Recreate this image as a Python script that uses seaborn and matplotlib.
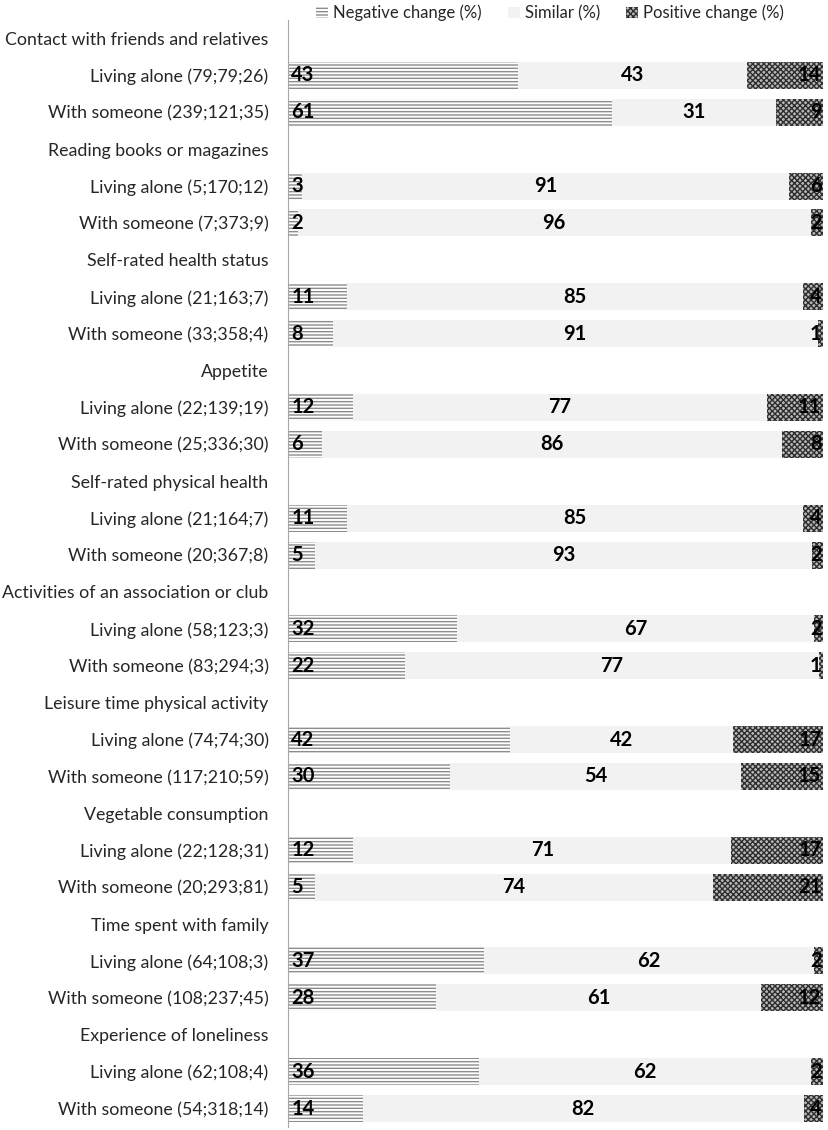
import matplotlib
matplotlib.use("Agg")
import matplotlib.pyplot as plt
import matplotlib.patches as mpatches
import numpy as np
import pandas as pd
import seaborn as sns

# ---- data ----
headers = [
    "Contact with friends and relatives",
    "Reading books or magazines",
    "Self-rated health status",
    "Appetite",
    "Self-rated physical health",
    "Activities of an association or club",
    "Leisure time physical activity",
    "Vegetable consumption",
    "Time spent with family",
    "Experience of loneliness",
]

# counts (negative; similar; positive) shown in the row labels
alone_n_neg = [79, 5, 21, 22, 21, 58, 74, 22, 64, 62]
alone_n_sim = [79, 170, 163, 139, 164, 123, 74, 128, 108, 108]
alone_n_pos = [26, 12, 7, 19, 7, 3, 30, 31, 3, 4]
someone_n_neg = [239, 7, 33, 25, 20, 83, 117, 20, 108, 54]
someone_n_sim = [121, 373, 358, 336, 367, 294, 210, 293, 237, 318]
someone_n_pos = [35, 9, 4, 30, 8, 3, 59, 81, 45, 14]

# percentages printed on the bars
alone_neg = [43, 3, 11, 12, 11, 32, 42, 12, 37, 36]
alone_sim = [43, 91, 85, 77, 85, 67, 42, 71, 62, 62]
alone_pos = [14, 6, 4, 11, 4, 2, 17, 17, 2, 2]
someone_neg = [61, 2, 8, 6, 5, 22, 30, 5, 28, 14]
someone_sim = [31, 96, 91, 86, 93, 77, 54, 74, 61, 82]
someone_pos = [9, 2, 1, 8, 2, 1, 15, 21, 12, 4]

# build the long table (header rows carry no values)
rows = []
for i, h in enumerate(headers):
    rows.append((h, np.nan, np.nan, np.nan, np.nan, np.nan, np.nan))
    rows.append((f"Living alone ({alone_n_neg[i]};{alone_n_sim[i]};{alone_n_pos[i]})",
                 alone_n_neg[i], alone_n_sim[i], alone_n_pos[i],
                 alone_neg[i], alone_sim[i], alone_pos[i]))
    rows.append((f"With someone ({someone_n_neg[i]};{someone_n_sim[i]};{someone_n_pos[i]})",
                 someone_n_neg[i], someone_n_sim[i], someone_n_pos[i],
                 someone_neg[i], someone_sim[i], someone_pos[i]))
df = pd.DataFrame(rows, columns=["label", "n_neg", "n_sim", "n_pos", "neg", "sim", "pos"])
tot = df["n_neg"] + df["n_sim"] + df["n_pos"]
df["w_neg"] = df["n_neg"] / tot * 100
df["w_sim"] = df["w_neg"] + df["n_sim"] / tot * 100
df["w_pos"] = df["w_sim"] + df["n_pos"] / tot * 100
order = list(df["label"])

sns.set_style("white")
plt.rcParams["font.family"] = ["Lato", "DejaVu Sans"]
plt.rcParams["hatch.linewidth"] = 1.0

fig = plt.figure(figsize=(8.29, 11.3), dpi=100)
ax = fig.add_axes([288 / 829, 3 / 1130, 535 / 829, 1107 / 1130])

bw = 0.73
sns.barplot(data=df, y="label", x="w_pos", order=order, orient="h", ax=ax,
            color="#b8b8b8", saturation=1, width=bw, hatch="xxxxxx",
            edgecolor="#2e2e2e", linewidth=0)
sns.barplot(data=df, y="label", x="w_sim", order=order, orient="h", ax=ax,
            color="#f2f2f2", saturation=1, width=bw, linewidth=0)
sns.barplot(data=df, y="label", x="w_neg", order=order, orient="h", ax=ax,
            color="white", saturation=1, width=bw, hatch="-----",
            edgecolor="#8c8c8c", linewidth=0)

# value labels
for i, r in df.iterrows():
    if np.isnan(r["neg"]):
        continue
    kw = dict(va="center", fontsize=14.5, fontweight="bold", color="black")
    ax.text(0.6, i, f"{int(r['neg'])}", ha="left", **kw)
    ax.text((r["w_neg"] + r["w_sim"]) / 2, i, f"{int(r['sim'])}", ha="center", **kw)
    ax.text(99.7, i, f"{int(r['pos'])}", ha="right", **kw)

ax.set_xlim(0, 100)
ax.set_ylim(len(order) - 0.5, -0.5)
ax.set_xlabel("")
ax.set_ylabel("")
ax.set_xticks([])
ax.set_yticks(range(len(order)))
ax.set_yticklabels(order, fontsize=12.8)
ax.tick_params(axis="y", which="major", length=0, pad=14)
ax.set_yticks(np.arange(-0.5, len(order), 1), minor=True)
ax.tick_params(axis="y", which="minor", length=5, color="#a6a6a6", width=1)
for s in ["top", "right", "bottom"]:
    ax.spines[s].set_visible(False)
ax.spines["left"].set_color("#a6a6a6")

handles = [
    mpatches.Patch(facecolor="white", edgecolor="#8c8c8c", hatch="-----", linewidth=0, label="Negative change (%)"),
    mpatches.Patch(facecolor="#f2f2f2", linewidth=0, label="Similar (%)"),
    mpatches.Patch(facecolor="#b8b8b8", edgecolor="#2e2e2e", hatch="xxxxxx", linewidth=0, label="Positive change (%)"),
]
fig.legend(handles=handles, loc="center", bbox_to_anchor=(550 / 829, 1 - 13 / 1130), ncol=3,
           frameon=False, fontsize=12, handlelength=0.7, handleheight=0.7,
           handletextpad=0.3, columnspacing=1.6)

fig.savefig("out.png", dpi=100)
